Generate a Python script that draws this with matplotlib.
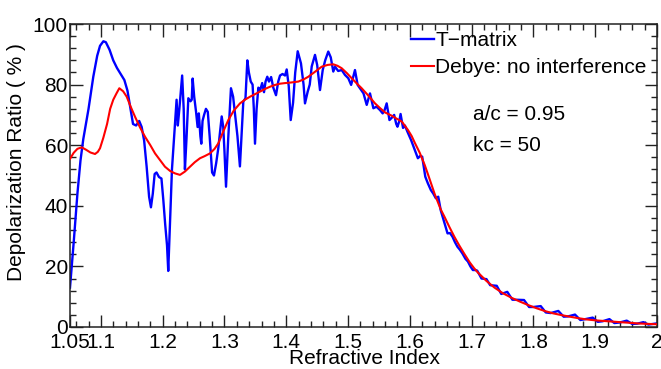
import matplotlib
matplotlib.use("Agg")
import matplotlib.pyplot as plt
from matplotlib.ticker import FixedLocator, MultipleLocator

plt.rcParams['font.family'] = ['Liberation Sans', 'DejaVu Sans']

# T-matrix depolarization ratio (%) vs refractive index
tm_n = [1.050, 1.056, 1.062, 1.067, 1.0715, 1.080, 1.0877, 1.094, 1.0986, 1.104,
        1.108, 1.114, 1.120, 1.126, 1.132, 1.138, 1.143, 1.148, 1.152, 1.157,
        1.162, 1.166, 1.170, 1.174, 1.178, 1.181, 1.184, 1.187, 1.190, 1.194,
        1.198, 1.201, 1.204, 1.207, 1.209, 1.212, 1.215, 1.219, 1.2225, 1.2245,
        1.227, 1.2315, 1.234, 1.236, 1.2385, 1.2415, 1.245, 1.247, 1.2485, 1.251,
        1.254, 1.2565, 1.2585, 1.261, 1.2625, 1.2645, 1.267, 1.270, 1.273, 1.276,
        1.280, 1.283, 1.2865, 1.290, 1.2955, 1.298, 1.300, 1.3025, 1.306, 1.3105,
        1.314, 1.317, 1.321, 1.325, 1.328, 1.3305, 1.334, 1.337, 1.3395, 1.3425,
        1.3455, 1.3475, 1.3494, 1.352, 1.3548, 1.3575, 1.361, 1.364, 1.3665, 1.3693,
        1.372, 1.3755, 1.379, 1.3834, 1.387, 1.3899, 1.394, 1.398, 1.4007, 1.404,
        1.4072, 1.411, 1.4145, 1.4185, 1.4238, 1.428, 1.4303, 1.4347, 1.438, 1.4412,
        1.4465, 1.450, 1.4546, 1.459, 1.463, 1.468, 1.472, 1.4761, 1.479, 1.484,
        1.4898, 1.495, 1.5004, 1.505, 1.5112, 1.5155, 1.5193, 1.525, 1.5302, 1.5355,
        1.541, 1.546, 1.5517, 1.556, 1.559, 1.5625, 1.567, 1.5705, 1.5746, 1.578,
        1.580, 1.583, 1.585, 1.589, 1.592, 1.596, 1.602, 1.606, 1.609, 1.613,
        1.617, 1.620, 1.625, 1.629, 1.634, 1.638, 1.642, 1.646, 1.650, 1.653,
        1.657, 1.661, 1.665, 1.669, 1.673, 1.677, 1.681, 1.685, 1.690, 1.694,
        1.698, 1.702, 1.706, 1.709, 1.716, 1.724, 1.730, 1.7406, 1.748, 1.7577,
        1.766, 1.772, 1.7848, 1.793, 1.800, 1.8118, 1.820, 1.828, 1.8403, 1.849,
        1.856, 1.8673, 1.876, 1.884, 1.896, 1.904, 1.912, 1.923, 1.931, 1.940,
        1.951, 1.960, 1.968, 1.978, 1.986, 1.993, 2.000]
tm_val = [13.0, 28.0, 44.0, 55.0, 62.0, 72.0, 82.6, 89.5, 92.8, 94.3,
          94.0, 91.5, 88.0, 85.5, 83.5, 81.5, 78.0, 72.0, 67.0, 66.5,
          68.0, 66.0, 61.5, 53.0, 43.0, 39.5, 44.0, 50.5, 51.0, 49.5,
          49.0, 42.0, 34.0, 27.0, 18.5, 35.0, 52.0, 64.0, 75.0, 66.5,
          72.0, 83.0, 72.0, 52.0, 62.0, 75.5, 74.5, 75.0, 82.0, 76.0,
          71.0, 66.0, 70.5, 63.0, 60.5, 68.0, 70.0, 72.0, 71.0, 63.0,
          51.0, 50.0, 54.0, 59.0, 69.5, 66.0, 58.0, 46.3, 62.0, 78.8,
          76.0, 70.5, 63.0, 53.0, 65.0, 74.4, 75.5, 88.0, 84.0, 81.0,
          80.0, 72.0, 60.5, 72.0, 79.0, 78.0, 80.5, 77.5, 81.0, 82.6,
          81.0, 82.5, 79.0, 76.5, 81.0, 83.0, 83.5, 83.0, 85.0, 79.5,
          68.3, 74.0, 84.0, 91.0, 87.0, 80.0, 73.8, 77.7, 80.0, 86.0,
          89.8, 86.5, 78.2, 84.8, 88.0, 90.9, 89.0, 84.3, 85.9, 84.5,
          84.8, 83.2, 82.1, 79.9, 84.8, 79.9, 78.8, 77.1, 73.3, 77.1,
          72.2, 72.7, 71.6, 70.5, 71.5, 73.8, 68.3, 69.0, 70.0, 67.0,
          66.1, 68.0, 70.3, 65.7, 66.5, 64.5, 61.7, 59.5, 57.9, 55.7,
          56.5, 56.2, 49.6, 47.5, 45.2, 44.0, 42.5, 43.0, 38.5, 36.4,
          33.5, 30.9, 31.0, 29.8, 28.0, 26.5, 25.5, 24.3, 22.5, 21.6,
          20.0, 18.8, 18.8, 18.6, 16.0, 15.8, 13.8, 13.6, 10.9, 11.6,
          9.0, 9.0, 8.9, 6.6, 6.6, 6.9, 4.8, 4.6, 5.3, 3.4,
          3.5, 4.1, 2.3, 2.6, 3.1, 1.7, 1.9, 2.6, 1.3, 1.5,
          2.1, 1.0, 1.1, 1.6, 0.8, 1.0, 1.2]

# Debye series without interference
db_n = [1.050, 1.056, 1.062, 1.069, 1.076, 1.083, 1.0905, 1.095, 1.0986, 1.104,
        1.110, 1.115, 1.120, 1.125, 1.1298, 1.136, 1.1418, 1.148, 1.1552, 1.163,
        1.1714, 1.180, 1.1876, 1.196, 1.2037, 1.212, 1.2199, 1.228, 1.236, 1.2442,
        1.252, 1.2604, 1.268, 1.2766, 1.284, 1.290, 1.298, 1.3062, 1.315, 1.3251,
        1.333, 1.3413, 1.350, 1.3575, 1.366, 1.3737, 1.382, 1.390, 1.398, 1.408,
        1.4195, 1.428, 1.4357, 1.445, 1.4573, 1.467, 1.4761, 1.483, 1.4897, 1.498,
        1.5059, 1.514, 1.522, 1.530, 1.537, 1.5436, 1.552, 1.560, 1.570, 1.580,
        1.587, 1.597, 1.603, 1.608, 1.616, 1.624, 1.630, 1.635, 1.640, 1.645,
        1.650, 1.656, 1.664, 1.672, 1.680, 1.688, 1.697, 1.704, 1.710, 1.717,
        1.724, 1.737, 1.751, 1.765, 1.778, 1.792, 1.805, 1.818, 1.832, 1.846,
        1.859, 1.873, 1.886, 1.900, 1.913, 1.927, 1.940, 1.955, 1.967, 1.983,
        2.000]
db_val = [55.5, 57.5, 58.8, 59.3, 58.5, 57.6, 57.1, 57.8, 59.0, 62.5,
          67.0, 72.0, 75.0, 77.0, 78.8, 77.8, 76.0, 72.8, 69.4, 66.0,
          62.8, 60.0, 57.3, 55.0, 52.9, 51.5, 50.7, 50.2, 51.3, 52.9,
          54.4, 55.7, 56.4, 57.3, 58.8, 60.6, 64.5, 68.3, 71.4, 73.8,
          75.0, 76.0, 76.9, 77.7, 78.6, 79.3, 79.9, 80.3, 80.5, 80.7,
          81.0, 81.7, 82.6, 84.0, 85.9, 86.5, 86.7, 86.2, 85.4, 83.8,
          82.1, 80.4, 78.8, 77.0, 75.4, 73.8, 72.2, 70.8, 69.8, 68.6,
          67.8, 65.0, 63.0, 60.8, 57.5, 53.5, 50.0, 47.0, 44.0, 41.4,
          38.8, 36.4, 33.0, 29.8, 26.9, 24.2, 21.3, 19.4, 18.0, 16.6,
          15.2, 13.0, 11.1, 9.6, 8.4, 7.2, 6.2, 5.3, 4.5, 3.9,
          3.4, 2.9, 2.5, 2.2, 2.0, 1.8, 1.6, 1.4, 1.2, 1.05,
          0.9]

x_ticks = [1.05, 1.1, 1.2, 1.3, 1.4, 1.5, 1.6, 1.7, 1.8, 1.9, 2.0]
x_ticklabels = ['1.05', '1.1', '1.2', '1.3', '1.4', '1.5', '1.6', '1.7', '1.8', '1.9', '2']
y_ticks = [0, 20, 40, 60, 80, 100]

W, H = 661, 369
fig = plt.figure(figsize=(W / 100, H / 100), dpi=100)
ax = fig.add_axes([70 / W, 1 - 327 / H, 587 / W, 303 / H])

ax.plot(tm_n, tm_val, color='#0000ff', lw=1.7, label='T\u2212matrix', zorder=2)
ax.plot(db_n, db_val, color='#ff0000', lw=1.5, label='Debye: no interference', zorder=3)

ax.set_xlim(1.05, 2.0)
ax.set_ylim(0, 100)
ax.xaxis.set_major_locator(FixedLocator(x_ticks))
ax.set_xticklabels(x_ticklabels)
ax.xaxis.set_minor_locator(MultipleLocator(0.02))
ax.yaxis.set_major_locator(FixedLocator(y_ticks))
ax.yaxis.set_minor_locator(MultipleLocator(4))

ax.tick_params(which='both', direction='in', top=True, right=True,
               width=1.0, color='#222222', labelsize=15)
ax.tick_params(which='major', length=9)
ax.tick_params(which='minor', length=4.5)
ax.tick_params(axis='x', pad=4)
ax.tick_params(axis='y', pad=1.5)
for s in ax.spines.values():
    s.set_linewidth(1.1)
    s.set_color('#222222')

leg = ax.legend(loc='upper left', bbox_to_anchor=(411 / W, 1 - 31 / H),
                bbox_transform=fig.transFigure, frameon=False, fontsize=15,
                handlelength=1.12, handletextpad=0.05, labelspacing=0.38,
                borderpad=0, borderaxespad=0)

fig.text(473 / W, 1 - 115 / H, 'a/c = 0.95', fontsize=15, ha='left', va='center')
fig.text(473 / W, 1 - 146 / H, 'kc = 50', fontsize=15, ha='left', va='center')

fig.text(17 / W, 1 - 162 / H, 'Depolarization Ratio ( % )', fontsize=15,
         rotation=90, ha='center', va='center')
fig.text(364 / W, 1 - 359 / H, 'Refractive Index', fontsize=15,
         ha='center', va='center')

fig.savefig('out.png', dpi=100)
